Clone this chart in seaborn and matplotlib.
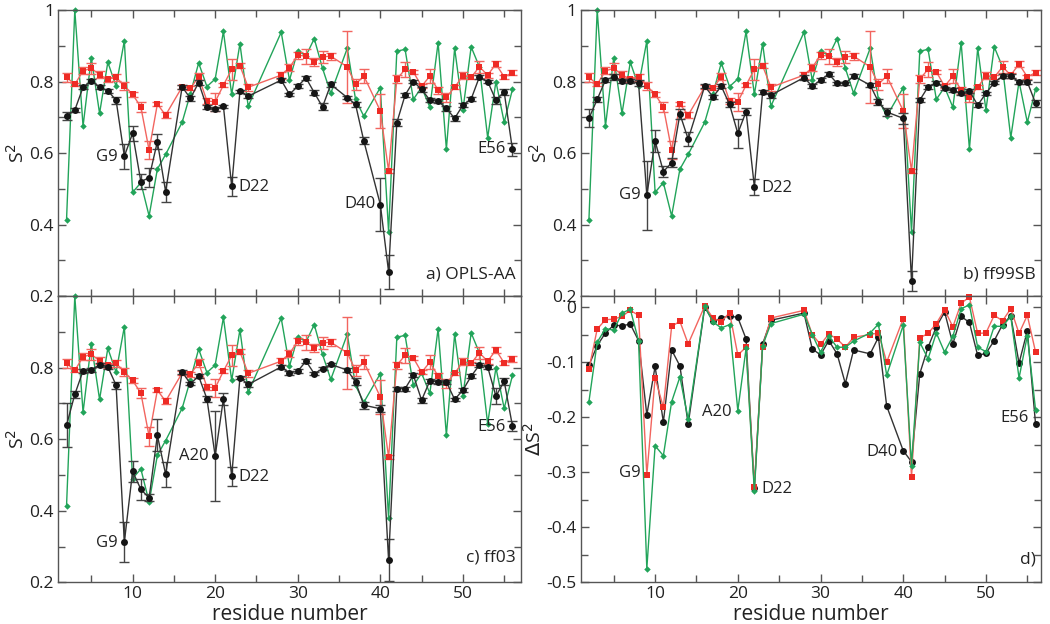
import matplotlib
matplotlib.use("Agg")
import matplotlib.pyplot as plt
import seaborn as sns
from matplotlib.ticker import MultipleLocator, FuncFormatter

sns.set_style("ticks")
plt.rcParams['font.family'] = ['Open Sans', 'DejaVu Sans']

# residues present in the data (15, 25-27, 35, 39 missing)
residues = [2, 3, 4, 5, 6, 7, 8, 9, 10, 11, 12, 13, 14,
            16, 17, 18, 19, 20, 21, 22, 23, 24,
            28, 29, 30, 31, 32, 33, 34,
            36, 37, 38,
            40, 41, 42, 43, 44, 45, 46, 47, 48, 49, 50, 51, 52, 53, 54, 55, 56]

# green series (same in a, b, c)
green_s2 = [0.413, 1.0, 0.675, 0.867, 0.711, 0.854, 0.787, 0.914, 0.49, 0.517, 0.424, 0.555, 0.596,
            0.686, 0.766, 0.852, 0.786, 0.807, 0.94, 0.764, 0.906, 0.731,
            0.938, 0.804, 0.886, 0.872, 0.92, 0.837, 0.767,
            0.893, 0.75, 0.703,
            0.783, 0.38, 0.885, 0.89, 0.75, 0.784, 0.728, 0.909, 0.611, 0.893, 0.72, 0.897, 0.841, 0.643, 0.8, 0.686, 0.778]

# red series (same in a, b, c)
red_s2 = [0.812, 0.792, 0.83, 0.837, 0.819, 0.806, 0.812, 0.788, 0.764, 0.729, 0.608, 0.737, 0.706,
          0.785, 0.781, 0.813, 0.746, 0.743, 0.79, 0.834, 0.844, 0.784,
          0.818, 0.839, 0.874, 0.871, 0.855, 0.869, 0.871,
          0.841, 0.792, 0.816,
          0.718, 0.55, 0.807, 0.834, 0.827, 0.787, 0.815, 0.776, 0.756, 0.784, 0.816, 0.812, 0.841, 0.818, 0.849, 0.813, 0.825]
red_err = [0.013, 0.005, 0.01, 0.016, 0.01, 0.007, 0.01, 0.012, 0.006, 0.013, 0.026, 0.005, 0.008,
           0.005, 0.006, 0.01, 0.008, 0.025, 0.005, 0.03, 0.007, 0.01,
           0.01, 0.01, 0.01, 0.021, 0.012, 0.017, 0.01,
           0.1, 0.015, 0.019,
           0.047, 0.006, 0.01, 0.021, 0.005, 0.006, 0.02, 0.01, 0.013, 0.005, 0.01, 0.005, 0.017, 0.007, 0.008, 0.005, 0.008]

# black series, one per force field
opls_s2 = [0.704, 0.72, 0.784, 0.802, 0.785, 0.774, 0.748, 0.591, 0.655, 0.52, 0.531, 0.632, 0.492,
           0.785, 0.753, 0.797, 0.728, 0.723, 0.731, 0.507, 0.773, 0.759,
           0.804, 0.764, 0.787, 0.81, 0.769, 0.729, 0.792,
           0.755, 0.736, 0.634,
           0.456, 0.268, 0.685, 0.762, 0.8, 0.778, 0.748, 0.745, 0.725, 0.697, 0.734, 0.751, 0.813, 0.8, 0.748, 0.771, 0.61]
opls_err = [0.012, 0.005, 0.005, 0.006, 0.005, 0.005, 0.01, 0.035, 0.02, 0.02, 0.027, 0.022, 0.028,
            0.005, 0.007, 0.007, 0.005, 0.005, 0.004, 0.027, 0.004, 0.005,
            0.006, 0.005, 0.005, 0.005, 0.007, 0.01, 0.007,
            0.005, 0.006, 0.01,
            0.074, 0.048, 0.01, 0.005, 0.005, 0.007, 0.005, 0.005, 0.007, 0.007, 0.005, 0.005, 0.005, 0.005, 0.01, 0.008, 0.018]

ff99_s2 = [0.697, 0.75, 0.804, 0.813, 0.802, 0.802, 0.795, 0.482, 0.634, 0.548, 0.573, 0.709, 0.639,
           0.787, 0.757, 0.787, 0.736, 0.655, 0.716, 0.506, 0.771, 0.762,
           0.811, 0.787, 0.804, 0.821, 0.795, 0.795, 0.815,
           0.79, 0.743, 0.715,
           0.697, 0.242, 0.748, 0.785, 0.797, 0.781, 0.776, 0.767, 0.774, 0.734, 0.767, 0.797, 0.815, 0.815, 0.799, 0.799, 0.739]
ff99_err = [0.025, 0.007, 0.005, 0.008, 0.005, 0.005, 0.008, 0.097, 0.03, 0.015, 0.013, 0.015, 0.02,
            0.005, 0.005, 0.005, 0.007, 0.04, 0.01, 0.022, 0.005, 0.007,
            0.006, 0.005, 0.005, 0.005, 0.005, 0.005, 0.005,
            0.005, 0.008, 0.01,
            0.015, 0.027, 0.005, 0.005, 0.005, 0.005, 0.005, 0.005, 0.005, 0.005, 0.005, 0.005, 0.005, 0.005, 0.005, 0.005, 0.01]

ff03_s2 = [0.639, 0.725, 0.791, 0.794, 0.808, 0.802, 0.751, 0.312, 0.51, 0.46, 0.436, 0.611, 0.502,
           0.788, 0.755, 0.776, 0.713, 0.553, 0.713, 0.496, 0.772, 0.753,
           0.802, 0.785, 0.79, 0.818, 0.783, 0.797, 0.809,
           0.793, 0.76, 0.695,
           0.685, 0.263, 0.741, 0.741, 0.779, 0.709, 0.763, 0.76, 0.76, 0.711, 0.737, 0.776, 0.807, 0.802, 0.72, 0.762, 0.637]
ff03_err = [0.061, 0.01, 0.005, 0.005, 0.005, 0.005, 0.01, 0.056, 0.03, 0.03, 0.01, 0.045, 0.035,
            0.005, 0.005, 0.005, 0.008, 0.125, 0.017, 0.027, 0.004, 0.007,
            0.005, 0.005, 0.005, 0.005, 0.005, 0.005, 0.005,
            0.005, 0.01, 0.01,
            0.01, 0.058, 0.005, 0.005, 0.005, 0.007, 0.005, 0.005, 0.005, 0.005, 0.006, 0.005, 0.005, 0.005, 0.023, 0.01, 0.015]

# panel d: delta S2
d_black = [-0.106, -0.07, -0.047, -0.033, -0.034, -0.031, -0.061, -0.196, -0.108, -0.209, -0.078, -0.107, -0.213,
           0.0, -0.026, -0.02, -0.016, -0.019, -0.058, -0.328, -0.067, -0.024,
           -0.011, -0.076, -0.087, -0.061, -0.085, -0.139, -0.078,
           -0.085, -0.055, -0.18,
           -0.261, -0.281, -0.121, -0.073, -0.036, -0.009, -0.067, -0.017, -0.028, -0.088, -0.084, -0.061, -0.032, -0.016, -0.102, -0.043, -0.213]
d_red = [-0.113, -0.04, -0.023, -0.022, -0.017, -0.006, -0.015, -0.305, -0.129, -0.182, -0.035, -0.026, -0.067,
         0.002, -0.02, -0.027, -0.01, -0.087, -0.073, -0.326, -0.072, -0.02,
         -0.006, -0.05, -0.068, -0.049, -0.058, -0.073, -0.055,
         -0.05, -0.047, -0.1,
         -0.021, -0.309, -0.056, -0.048, -0.03, -0.005, -0.036, 0.007, 0.018, -0.048, -0.047, -0.015, -0.025, -0.003, -0.048, -0.015, -0.082]
d_green = [-0.172, -0.064, -0.039, -0.042, -0.011, -0.004, -0.061, -0.475, -0.252, -0.27, -0.172, -0.127, -0.204,
           0.001, -0.027, -0.038, -0.032, -0.188, -0.075, -0.335, -0.07, -0.03,
           -0.013, -0.05, -0.082, -0.053, -0.073, -0.073, -0.062,
           -0.047, -0.031, -0.124,
           -0.033, -0.288, -0.064, -0.094, -0.047, -0.082, -0.053, -0.003, 0.004, -0.073, -0.081, -0.035, -0.035, -0.017, -0.129, -0.052, -0.187]

GREEN = '#22a45a'
RED = '#ee2b25'
RED_LIGHT = '#f2655f'
BLACK = '#151515'
GREY = '#555555'
TXT = '#222222'

fig = plt.figure(figsize=(10.5, 6.24), dpi=100)
ax_a = fig.add_axes([0.0555, 0.5256, 0.4404, 0.4583])
ax_b = fig.add_axes([0.553, 0.5256, 0.438, 0.4583])
ax_c = fig.add_axes([0.0555, 0.0668, 0.4404, 0.4588])
ax_d = fig.add_axes([0.553, 0.0668, 0.438, 0.4588])


def draw_green(ax, y):
    sns.lineplot(x=residues, y=y, ax=ax, color=GREEN, linewidth=1.0, marker='D',
                 markersize=3.3, markeredgewidth=0, clip_on=False)


def draw_red(ax, y, err=None):
    if err is not None:
        ax.errorbar(residues, y, yerr=err, fmt='none', ecolor=RED_LIGHT, elinewidth=1, capsize=3.5)
    sns.lineplot(x=residues, y=y, ax=ax, color=RED_LIGHT, linewidth=1.0, marker='s',
                 markersize=4.6, markeredgewidth=0, markerfacecolor=RED, clip_on=False)


def draw_black(ax, y, err=None):
    if err is not None:
        ax.errorbar(residues, y, yerr=err, fmt='none', ecolor='#444444', elinewidth=1, capsize=3.5)
    sns.lineplot(x=residues, y=y, ax=ax, color='#333333', linewidth=1.0, marker='o',
                 markersize=5, markeredgewidth=0, markerfacecolor=BLACK, clip_on=False)


def tick_fmt(v, pos):
    v = round(v, 3)
    if v == 0:
        return '0'
    return '%g' % v


def tick_fmt_lower(v, pos):
    # the lower-left panel's top "1" is covered by the "0.2" of the panel above
    if abs(v - 1.0) < 1e-6:
        return ''
    return tick_fmt(v, pos)


def style(ax, ylim, major, minor, xlim, ylabel, bottom, fmt=tick_fmt):
    ax.set_xlim(*xlim)
    ax.set_ylim(*ylim)
    ax.xaxis.set_major_locator(MultipleLocator(10))
    ax.xaxis.set_minor_locator(MultipleLocator(5))
    ax.yaxis.set_major_locator(MultipleLocator(major))
    ax.yaxis.set_minor_locator(MultipleLocator(minor))
    ax.yaxis.set_major_formatter(FuncFormatter(fmt))
    ax.tick_params(which='both', direction='in', top=True, right=True,
                   color=GREY, labelsize=12.5, labelcolor=TXT, width=1, pad=3)
    ax.tick_params(which='major', length=6)
    ax.tick_params(which='minor', length=5)
    for s in ax.spines.values():
        s.set_color(GREY)
        s.set_linewidth(1)
    ax.set_ylabel(ylabel, fontsize=14, color=TXT, labelpad=1)
    if bottom:
        ax.set_xlabel('residue number', fontsize=15, color=TXT, labelpad=1)
    else:
        ax.set_xlabel('')
        ax.tick_params(labelbottom=False)


def label(ax, x, y, txt, ha):
    ax.text(x, y, txt, ha=ha, va='center', fontsize=12, color=TXT)


def panel_tag(ax, y, txt):
    ax.text(0.99, y, txt, transform=ax.transAxes, ha='right', va='center',
            fontsize=12.5, color=TXT)


# a) OPLS-AA
draw_green(ax_a, green_s2)
draw_red(ax_a, red_s2, red_err)
draw_black(ax_a, opls_s2, opls_err)
style(ax_a, (0.2, 1.0), 0.2, 0.1, (1, 57), 'S$^2$', False)
label(ax_a, 8.2, 0.59, 'G9', 'right')
label(ax_a, 22.8, 0.505, 'D22', 'left')
label(ax_a, 39.4, 0.457, 'D40', 'right')
label(ax_a, 55.2, 0.61, 'E56', 'right')
panel_tag(ax_a, 0.075, 'a) OPLS-AA')

# b) ff99SB
draw_green(ax_b, green_s2)
draw_red(ax_b, red_s2, red_err)
draw_black(ax_b, ff99_s2, ff99_err)
style(ax_b, (0.2, 1.0), 0.2, 0.1, (1, 56.6), 'S$^2$', False)
label(ax_b, 8.2, 0.482, 'G9', 'right')
label(ax_b, 22.8, 0.502, 'D22', 'left')
panel_tag(ax_b, 0.075, 'b) ff99SB')

# c) ff03
draw_green(ax_c, green_s2)
draw_red(ax_c, red_s2, red_err)
draw_black(ax_c, ff03_s2, ff03_err)
style(ax_c, (0.2, 1.0), 0.2, 0.1, (1, 57), 'S$^2$', True, tick_fmt_lower)
label(ax_c, 8.2, 0.31, 'G9', 'right')
label(ax_c, 19.2, 0.553, 'A20', 'right')
label(ax_c, 22.8, 0.494, 'D22', 'left')
label(ax_c, 55.2, 0.634, 'E56', 'right')
panel_tag(ax_c, 0.085, 'c) ff03')

# d) delta S2
draw_black(ax_d, d_black)
draw_red(ax_d, d_red)
draw_green(ax_d, d_green)
style(ax_d, (-0.5, 0.02), 0.1, 0.05, (1, 56.6), '$\\Delta$S$^2$', True)
label(ax_d, 8.2, -0.302, 'G9', 'right')
label(ax_d, 19.2, -0.19, 'A20', 'right')
label(ax_d, 22.8, -0.331, 'D22', 'left')
label(ax_d, 39.3, -0.264, 'D40', 'right')
label(ax_d, 55.2, -0.202, 'E56', 'right')
panel_tag(ax_d, 0.08, 'd)')

fig.savefig('out.png', dpi=100)
